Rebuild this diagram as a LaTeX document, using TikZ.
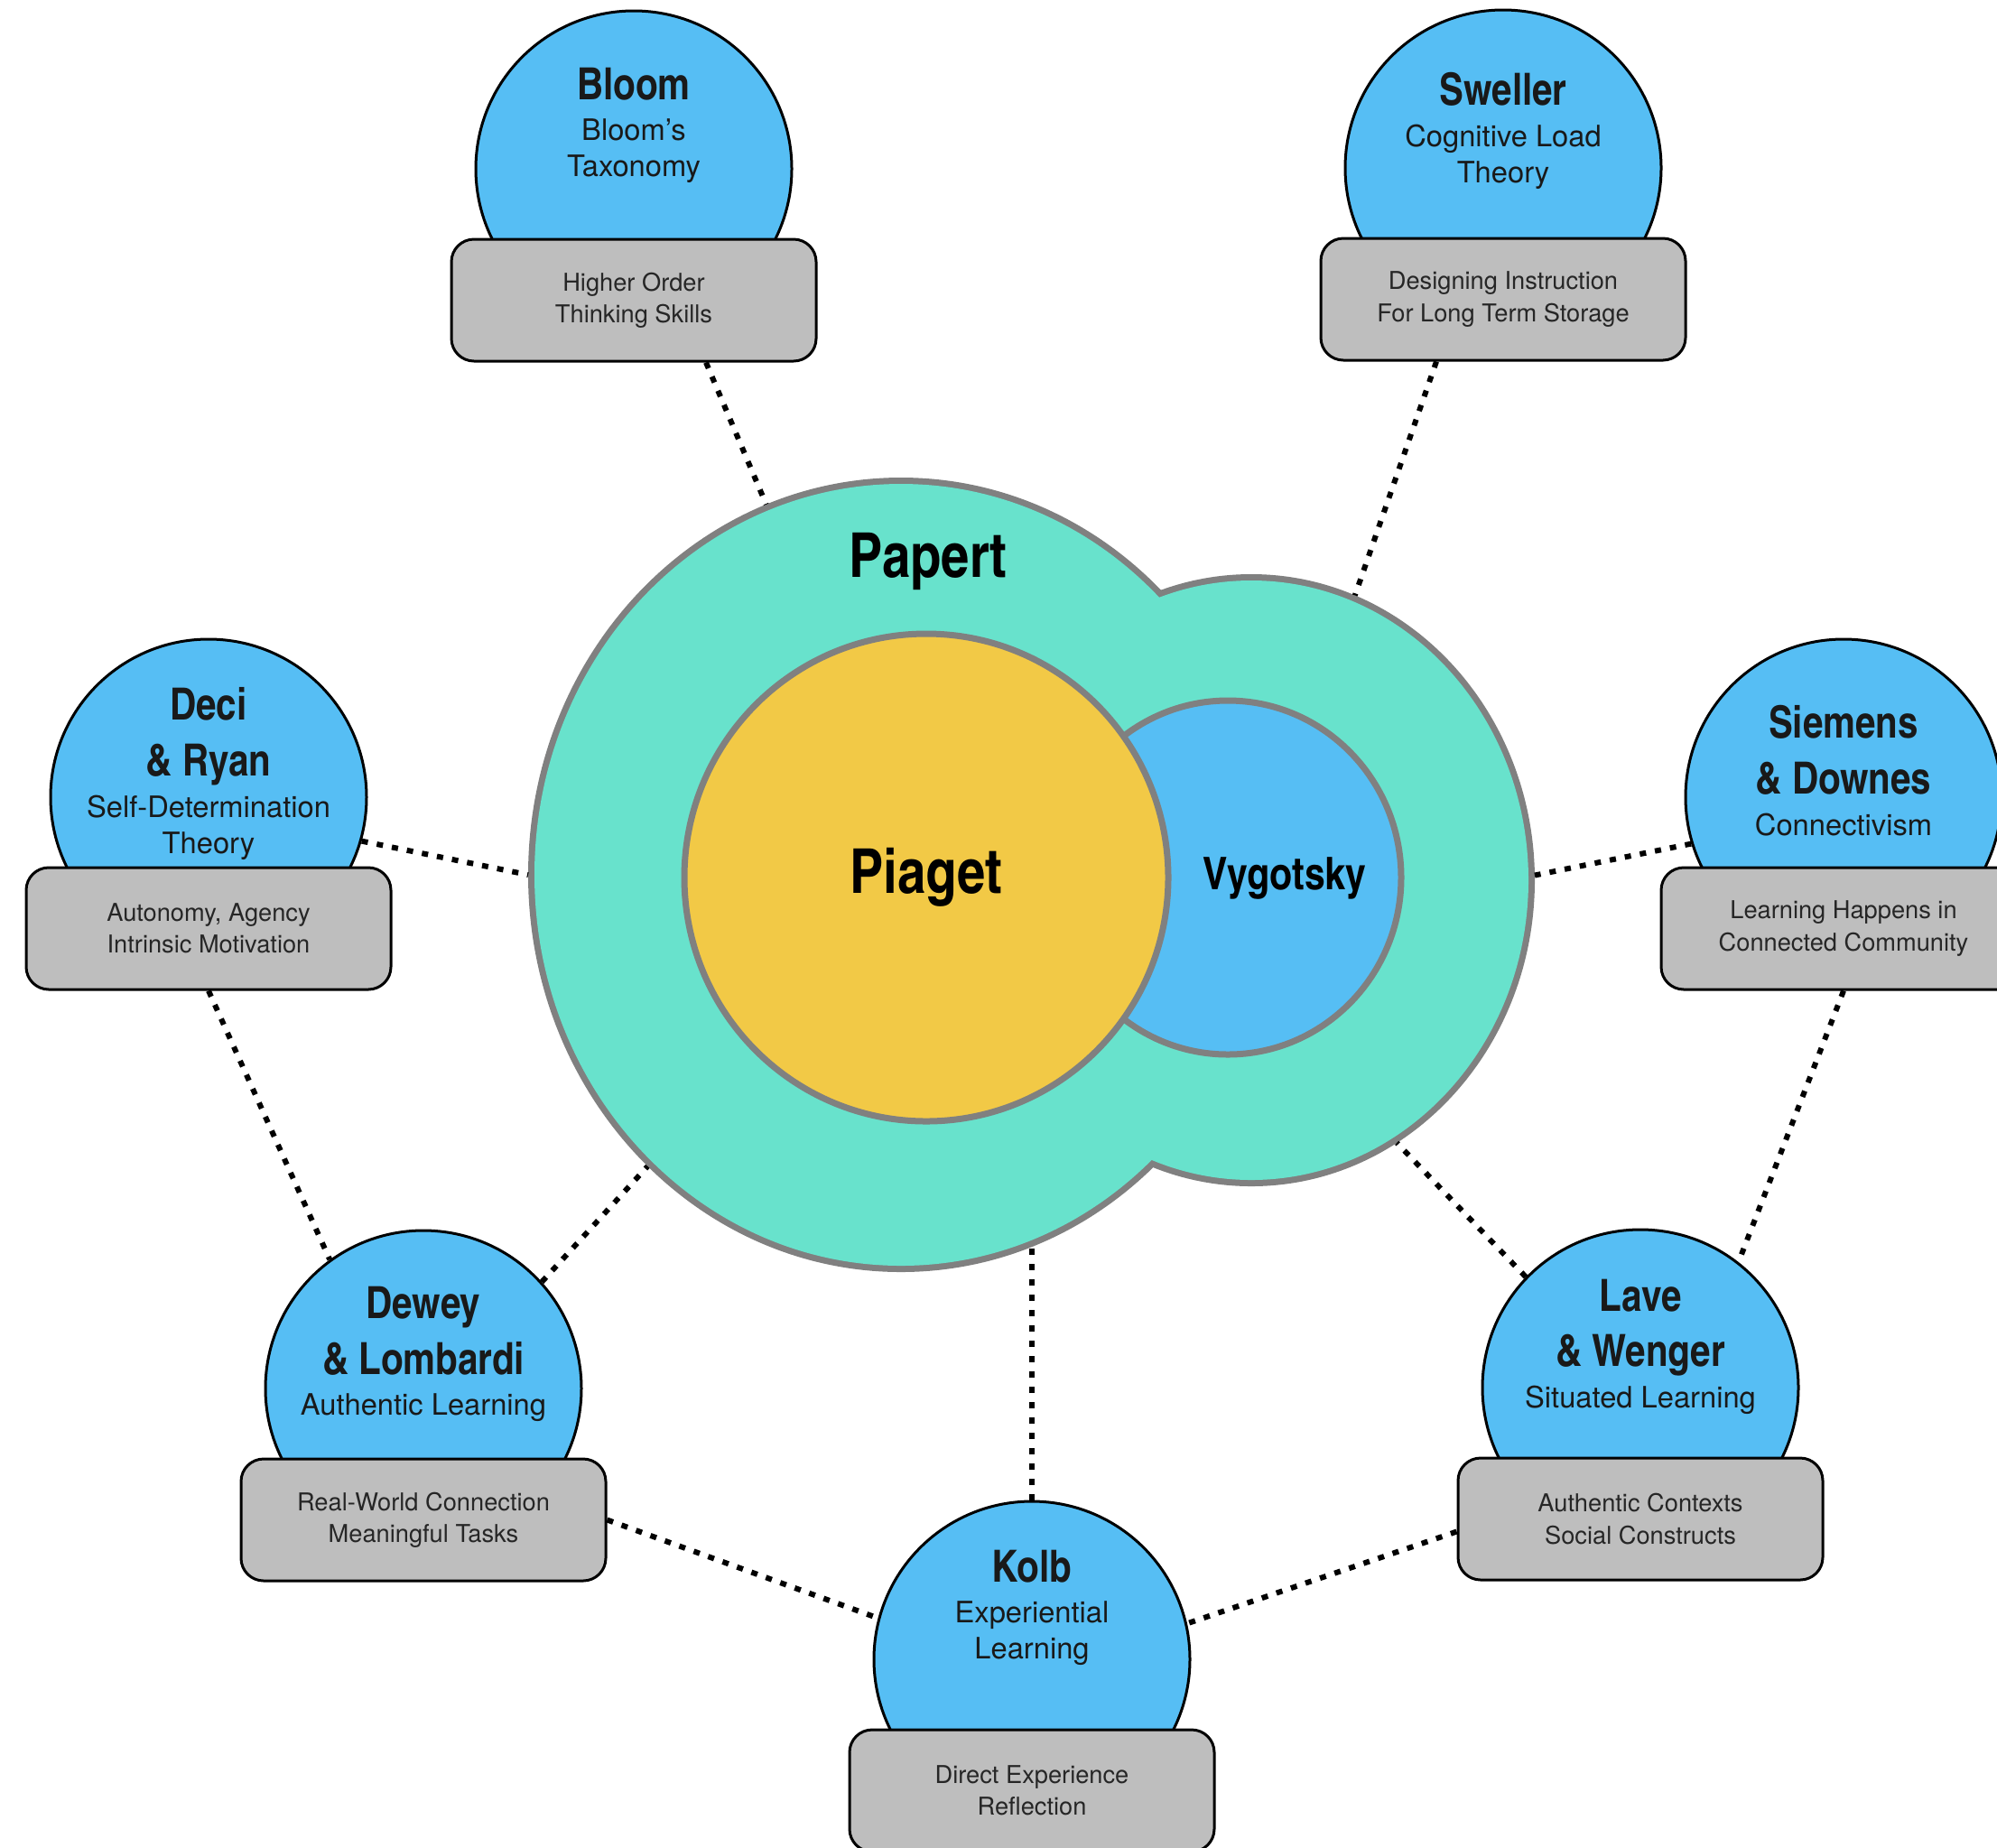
\documentclass[tikz,border=0pt]{standalone}
\usepackage{fontspec}
\setmainfont{TeX Gyre Heros}
\newfontfamily\condfont{texgyreheroscn-bold.otf}
\usetikzlibrary{positioning,shapes.geometric}

\definecolor{papteal}{RGB}{104,226,204}
\definecolor{piagetyellow}{RGB}{242,201,70}
\definecolor{theoblue}{RGB}{86,190,244}
\definecolor{boxgray}{RGB}{190,190,190}
\definecolor{rimgray}{RGB}{128,128,128}

\newcommand{\ttl}[1]{{\condfont\fontsize{14}{17.6}\selectfont #1}}

\tikzset{
  theorist/.style={circle,draw=black,fill=theoblue,line width=0.03cm,minimum size=3.5cm,inner sep=0pt},
  idea/.style={rectangle,rounded corners=0.25cm,draw=black,fill=boxgray,line width=0.03cm,
    minimum width=4.04cm,minimum height=1.35cm,align=center,text=black!85,
    font=\fontsize{7.75}{10}\selectfont},
  blurb/.style={anchor=north,align=center,inner sep=0pt,text=black!90,font=\fontsize{9.3}{11.4}\selectfont},
  link/.style={line width=0.06cm,dash pattern=on 0.07cm off 0.1cm},
  lobe/.style={ellipse,draw=rimgray,line width=0.14cm,inner sep=0pt},
  ring/.style={ellipse,draw=rimgray,line width=0.07cm,inner sep=0pt},
  bigname/.style={font=\condfont\fontsize{19.5}{22}\selectfont},
}

\begin{document}
\begin{tikzpicture}
  \useasboundingbox (0,0) rectangle (22.12,-20.46);

  % Papert: two lobes, outline first, fill on top
  \node[lobe,minimum width=8.12cm,minimum height=8.66cm] (papL) at (9.98,-9.69) {};
  \node[lobe,minimum width=6.14cm,minimum height=6.64cm] (papR) at (13.86,-9.75) {};
  \fill[papteal] (papL.center) ellipse [x radius=4.06cm, y radius=4.33cm];
  \fill[papteal] (papR.center) ellipse [x radius=3.07cm, y radius=3.32cm];
  \node[bigname] (papertlbl) at (10.28,-6.22) {Papert};

  \node[ring,fill=theoblue,minimum width=3.84cm,minimum height=3.92cm] (vyg) at (13.60,-9.72) {};
  \node[font=\condfont\fontsize{14.2}{17}\selectfont] (vyglbl) at (14.23,-9.73) {Vygotsky};
  \node[ring,fill=piagetyellow,minimum width=5.36cm,minimum height=5.4cm,bigname] (piaget) at (10.26,-9.72) {Piaget};

  % theorists
  \node[theorist] (bloom) at (7.02,-1.87) {};
  \node[idea] (bloombox) at ([yshift=-1.455cm]bloom.center) {Higher Order\\Thinking Skills};
  \node[blurb] (bloomtxt) at ([yshift=1.13cm]bloom.center) {\ttl{Bloom}\\[1.6pt]Bloom’s\\Taxonomy};

  \node[theorist] (sweller) at (16.65,-1.86) {};
  \node[idea] (swellerbox) at ([yshift=-1.455cm]sweller.center) {Designing Instruction\\For Long Term Storage};
  \node[blurb] (swellertxt) at ([yshift=1.06cm]sweller.center) {\ttl{Sweller}\\[1.6pt]Cognitive Load\\Theory};

  \node[theorist] (deci) at (2.31,-8.83) {};
  \node[idea] (decibox) at ([yshift=-1.455cm]deci.center) {Autonomy, Agency\\Intrinsic Motivation};
  \node[blurb] (decitxt) at ([yshift=1.22cm]deci.center) {\ttl{Deci}\\[6.2pt]\ttl{\& Ryan}\\[1.6pt]Self-Determination\\Theory};

  \node[theorist] (siemens) at (20.42,-8.83) {};
  \node[idea] (siemensbox) at ([yshift=-1.455cm]siemens.center) {Learning Happens in\\Connected Community};
  \node[blurb] (siemenstxt) at ([yshift=1.02cm]siemens.center) {\ttl{Siemens}\\[6.2pt]\ttl{\& Downes}\\[1.6pt]Connectivism};

  \node[theorist] (dewey) at (4.69,-15.38) {};
  \node[idea] (deweybox) at ([yshift=-1.455cm]dewey.center) {Real-World Connection\\Meaningful Tasks};
  \node[blurb] (deweytxt) at ([yshift=1.14cm]dewey.center) {\ttl{Dewey}\\[3.4pt]\ttl{\& Lombardi}\\[1.6pt]Authentic Learning};

  \node[theorist] (lave) at (18.17,-15.37) {};
  \node[idea] (lavebox) at ([yshift=-1.455cm]lave.center) {Authentic Contexts\\Social Constructs};
  \node[blurb] (lavetxt) at ([yshift=1.21cm]lave.center) {\ttl{Lave}\\[6.2pt]\ttl{\& Wenger}\\[1.6pt]Situated Learning};

  \node[theorist] (kolb) at (11.43,-18.38) {};
  \node[idea] (kolbbox) at ([yshift=-1.455cm]kolb.center) {Direct Experience\\Reflection};
  \node[blurb] (kolbtxt) at ([yshift=1.22cm]kolb.center) {\ttl{Kolb}\\[1.6pt]Experiential\\Learning};

  % dotted links
  \draw[link] ([xshift=0.8cm]bloombox.south) -- (papL.110);
  \draw[link] ([xshift=-0.74cm]swellerbox.south) -- (papR.70);
  \draw[link] (deci.-16) -- (papL.180);
  \draw[link] (siemens.-163) -- (papR.1);
  \draw[link] (decibox.south) -- (dewey.126);
  \draw[link] (siemensbox.south) -- (lave.52);
  \draw[link] (dewey.42) -- (papL.-131);
  \draw[link] (lave.136) -- (papR.-61);
  \draw[link] (kolb.north) -- (kolb.north |- papL.-70);
  \draw[link] (deweybox.east) -- (kolb.165);
  \draw[link] ([yshift=-0.14cm]lavebox.west) -- (kolb.13);
\end{tikzpicture}
\end{document}
